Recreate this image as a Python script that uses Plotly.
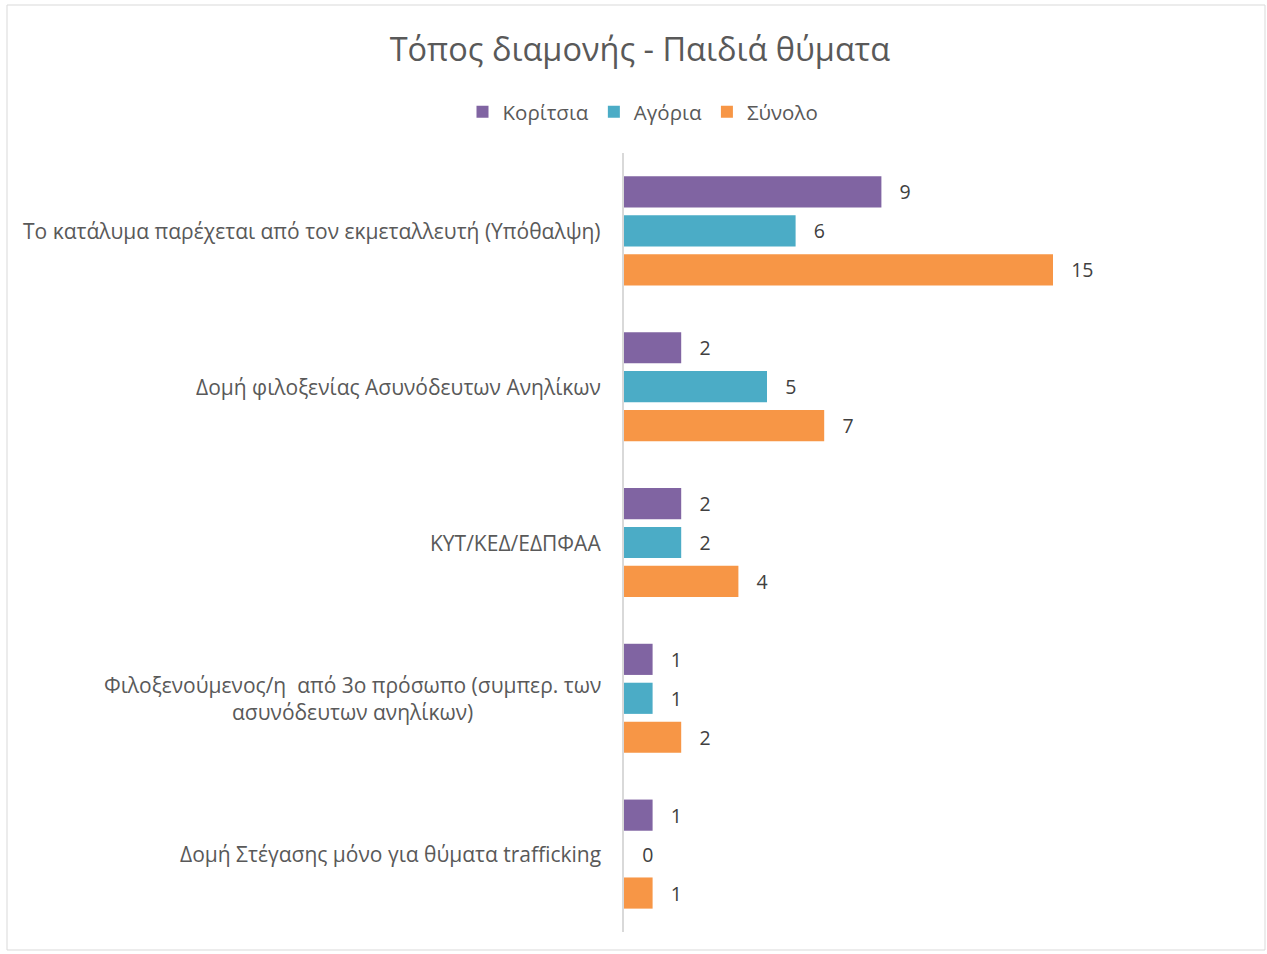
import plotly.graph_objects as go

categories = [
    "Το κατάλυμα παρέχεται από τον εκμεταλλευτή (Υπόθαλψη)",
    "Δομή φιλοξενίας Ασυνόδευτων Ανηλίκων",
    "ΚΥΤ/ΚΕΔ/ΕΔΠΦΑΑ",
    "Φιλοξενούμενος/η  από 3ο πρόσωπο (συμπερ. των<br>ασυνόδευτων ανηλίκων)",
    "Δομή Στέγασης μόνο για θύματα trafficking",
]
girls = [9, 2, 2, 1, 1]
boys = [6, 5, 2, 1, 0]
total = [15, 7, 4, 2, 1]

series = [("Κορίτσια", girls, "#8064A2"), ("Αγόρια", boys, "#4BACC6"), ("Σύνολο", total, "#F79646")]

FONT = "'Open Sans', 'Noto Sans', sans-serif"
W, H = 1267, 954
L, R, T, B = 624, 71, 153, 22

fig = go.Figure()
for name, vals, col in series:
    fig.add_trace(go.Bar(
        name=name, y=categories, x=vals, orientation="h",
        marker=dict(color=col, line=dict(width=0)),
        text=vals, texttemplate="\u00a0\u00a0\u00a0%{x}", textposition="outside",
        textfont=dict(family=FONT, size=19.5, color="#404040"),
        cliponaxis=False,
    ))

pw = W - L - R
ph = H - T - B

annotations = []
for c in categories:
    annotations.append(dict(
        x=0, y=c, xref="paper", yref="y", xanchor="right", yanchor="middle",
        xshift=-21, text=c, showarrow=False, align="center",
        font=dict(family=FONT, size=21, color="#595959"),
    ))

fig.update_layout(
    width=W, height=H,
    margin=dict(l=L, r=R, t=T, b=B),
    paper_bgcolor="white", plot_bgcolor="white",
    barmode="group", bargap=0.25, bargroupgap=0.2,
    title=dict(text="Τόπος διαμονής - Παιδιά θύματα", xref="container", x=0.505,
               y=1 - 50 / H, yanchor="middle", xanchor="center",
               font=dict(family=FONT, size=32.5, color="#595959")),
    legend=dict(orientation="h", xanchor="center", yanchor="middle",
                x=(643 - L) / pw, y=(H - B - 112) / ph,
                font=dict(family=FONT, size=20.5, color="#595959"),
                traceorder="normal", itemclick=False),
    xaxis=dict(range=[0, pw / 28.6], visible=False, showgrid=False, zeroline=False),
    yaxis=dict(autorange="reversed", showticklabels=False, showgrid=False,
               showline=True, linecolor="#D9D9D9", linewidth=1.5, ticks=""),
    annotations=annotations,
    shapes=[dict(type="rect", xref="paper", yref="paper",
                 x0=(7 - L) / pw, x1=(1265 - L) / pw,
                 y0=(H - B - 950) / ph, y1=(H - B - 5) / ph,
                 line=dict(color="#D9D9D9", width=1), fillcolor="rgba(0,0,0,0)", layer="below")],
)

fig.write_html("out.html", config={"displayModeBar": False},
               post_script="document.body.style.margin='0';document.body.style.overflow='hidden';")
